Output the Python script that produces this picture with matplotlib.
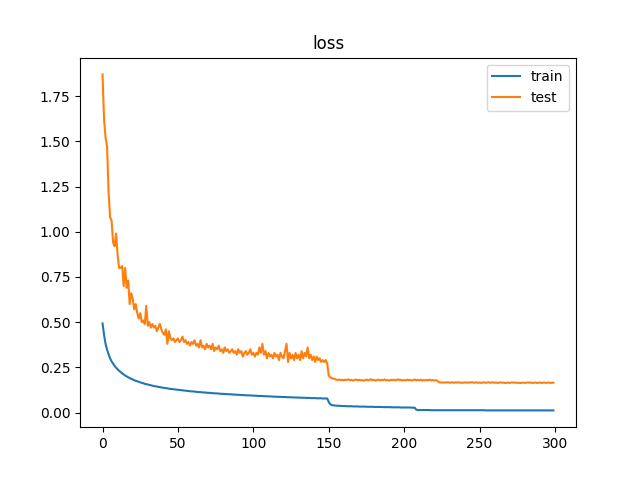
import matplotlib
matplotlib.use('Agg')
import matplotlib.pyplot as plt

# loss per epoch
train_loss = [
    0.493, 0.430, 0.380, 0.348, 0.322, 0.300, 0.283, 0.270, 0.258, 0.248,
    0.239, 0.231, 0.224, 0.217, 0.211, 0.205, 0.200, 0.195, 0.191, 0.187,
    0.183, 0.179, 0.176, 0.173, 0.170, 0.167, 0.164, 0.162, 0.159, 0.157,
    0.155, 0.153, 0.151, 0.149, 0.147, 0.145, 0.144, 0.142, 0.141, 0.139,
    0.138, 0.136, 0.135, 0.134, 0.132, 0.131, 0.130, 0.129, 0.128, 0.127,
    0.126, 0.125, 0.124, 0.123, 0.122, 0.121, 0.120, 0.119, 0.118, 0.117,
    0.117, 0.116, 0.115, 0.114, 0.113, 0.113, 0.112, 0.111, 0.111, 0.110,
    0.109, 0.109, 0.108, 0.107, 0.107, 0.106, 0.106, 0.105, 0.104, 0.104,
    0.103, 0.103, 0.102, 0.102, 0.101, 0.101, 0.100, 0.100, 0.099, 0.099,
    0.098, 0.098, 0.097, 0.097, 0.096, 0.096, 0.095, 0.095, 0.095, 0.094,
    0.094, 0.093, 0.093, 0.092, 0.092, 0.092, 0.091, 0.091, 0.090, 0.090,
    0.090, 0.089, 0.089, 0.088, 0.088, 0.088, 0.087, 0.087, 0.087, 0.086,
    0.086, 0.086, 0.085, 0.085, 0.085, 0.084, 0.084, 0.084, 0.083, 0.083,
    0.083, 0.082, 0.082, 0.082, 0.082, 0.081, 0.081, 0.081, 0.080, 0.080,
    0.080, 0.080, 0.079, 0.079, 0.079, 0.079, 0.078, 0.078, 0.078, 0.078,
    0.058, 0.046, 0.042, 0.040, 0.039, 0.038, 0.038, 0.037, 0.037, 0.036,
    0.036, 0.036, 0.035, 0.035, 0.035, 0.035, 0.034, 0.034, 0.034, 0.034,
    0.033, 0.033, 0.033, 0.033, 0.033, 0.032, 0.032, 0.032, 0.032, 0.032,
    0.031, 0.031, 0.031, 0.031, 0.031, 0.031, 0.030, 0.030, 0.030, 0.030,
    0.030, 0.030, 0.029, 0.029, 0.029, 0.029, 0.029, 0.029, 0.028, 0.028,
    0.028, 0.028, 0.028, 0.028, 0.028, 0.027, 0.027, 0.027, 0.016, 0.014,
    0.014, 0.014, 0.014, 0.014, 0.014, 0.014, 0.014, 0.014, 0.013, 0.013,
    0.013, 0.013, 0.013, 0.013, 0.013, 0.013, 0.013, 0.013, 0.013, 0.013,
    0.013, 0.013, 0.013, 0.013, 0.013, 0.013, 0.013, 0.013, 0.013, 0.013,
    0.013, 0.013, 0.013, 0.013, 0.013, 0.013, 0.013, 0.013, 0.013, 0.013,
    0.013, 0.013, 0.013, 0.013, 0.012, 0.012, 0.012, 0.012, 0.012, 0.012,
    0.012, 0.012, 0.012, 0.012, 0.012, 0.012, 0.012, 0.012, 0.012, 0.012,
    0.012, 0.012, 0.012, 0.012, 0.012, 0.012, 0.012, 0.012, 0.012, 0.012,
    0.012, 0.012, 0.012, 0.012, 0.012, 0.012, 0.012, 0.012, 0.012, 0.012,
    0.012, 0.012, 0.012, 0.012, 0.012, 0.012, 0.012, 0.012, 0.012, 0.012,
]

test_loss = [
    1.87, 1.62, 1.52, 1.47, 1.22, 1.08, 1.06, 0.94, 0.92, 0.99,
    0.87, 0.80, 0.80, 0.81, 0.70, 0.80, 0.69, 0.73, 0.60, 0.66,
    0.63, 0.57, 0.60, 0.55, 0.52, 0.55, 0.50, 0.51, 0.49, 0.59,
    0.48, 0.50, 0.47, 0.49, 0.47, 0.48, 0.45, 0.47, 0.49, 0.46,
    0.44, 0.43, 0.46, 0.38, 0.45, 0.41, 0.40, 0.41, 0.39, 0.40,
    0.41, 0.39, 0.40, 0.42, 0.39, 0.40, 0.38, 0.39, 0.37, 0.39,
    0.38, 0.40, 0.37, 0.38, 0.36, 0.40, 0.36, 0.37, 0.35, 0.38,
    0.36, 0.37, 0.35, 0.38, 0.34, 0.36, 0.35, 0.37, 0.34, 0.35,
    0.33, 0.36, 0.34, 0.35, 0.33, 0.34, 0.35, 0.33, 0.34, 0.32,
    0.35, 0.33, 0.34, 0.31, 0.33, 0.34, 0.32, 0.33, 0.35, 0.32,
    0.33, 0.31, 0.33, 0.32, 0.36, 0.33, 0.38, 0.32, 0.34, 0.30,
    0.33, 0.31, 0.32, 0.30, 0.33, 0.31, 0.32, 0.29, 0.33, 0.31,
    0.30, 0.34, 0.38, 0.28, 0.33, 0.30, 0.32, 0.29, 0.33, 0.30,
    0.32, 0.29, 0.34, 0.30, 0.33, 0.31, 0.36, 0.30, 0.32, 0.29,
    0.31, 0.28, 0.31, 0.29, 0.30, 0.28, 0.29, 0.28, 0.29, 0.27,
    0.205, 0.195, 0.190, 0.188, 0.185,
    0.182, 0.180, 0.183, 0.179, 0.181, 0.178, 0.182, 0.180, 0.184, 0.179,
    0.181, 0.177, 0.180, 0.183, 0.179, 0.181, 0.178, 0.180, 0.176, 0.179,
    0.182, 0.178, 0.180, 0.185, 0.179, 0.181, 0.177, 0.180, 0.182, 0.178,
    0.181, 0.179, 0.183, 0.178, 0.180, 0.177, 0.181, 0.179, 0.182, 0.178,
    0.180, 0.184, 0.179, 0.181, 0.177, 0.180, 0.178, 0.182, 0.179, 0.181,
    0.177, 0.180, 0.183, 0.178, 0.181, 0.179, 0.182, 0.177, 0.180, 0.178,
    0.181, 0.179, 0.182, 0.178, 0.180, 0.177, 0.179, 0.176,
    0.168, 0.166, 0.167, 0.165, 0.167, 0.166, 0.168, 0.165, 0.166, 0.167,
    0.165, 0.167, 0.166, 0.168, 0.165, 0.166, 0.164, 0.167, 0.166, 0.165,
    0.167, 0.166, 0.168, 0.165, 0.166, 0.167, 0.165, 0.166, 0.164, 0.166,
    0.167, 0.165, 0.166, 0.168, 0.165, 0.166, 0.167, 0.165, 0.166, 0.164,
    0.166, 0.167, 0.165, 0.166, 0.163, 0.165, 0.166, 0.164, 0.166, 0.167,
    0.165, 0.166, 0.164, 0.165, 0.163, 0.165, 0.166, 0.164, 0.165, 0.167,
    0.165, 0.166, 0.164, 0.165, 0.166, 0.164, 0.165, 0.166, 0.164, 0.165,
    0.166, 0.164, 0.165, 0.166, 0.164, 0.165, 0.165,
]

fig, ax = plt.subplots(figsize=(6.4, 4.8), dpi=100)
ax.plot(range(len(train_loss)), train_loss, label='train')
ax.plot(range(len(test_loss)), test_loss, label='test')
ax.set_title('loss')
ax.legend(loc='upper right')
plt.savefig('out.png')
plt.close()
